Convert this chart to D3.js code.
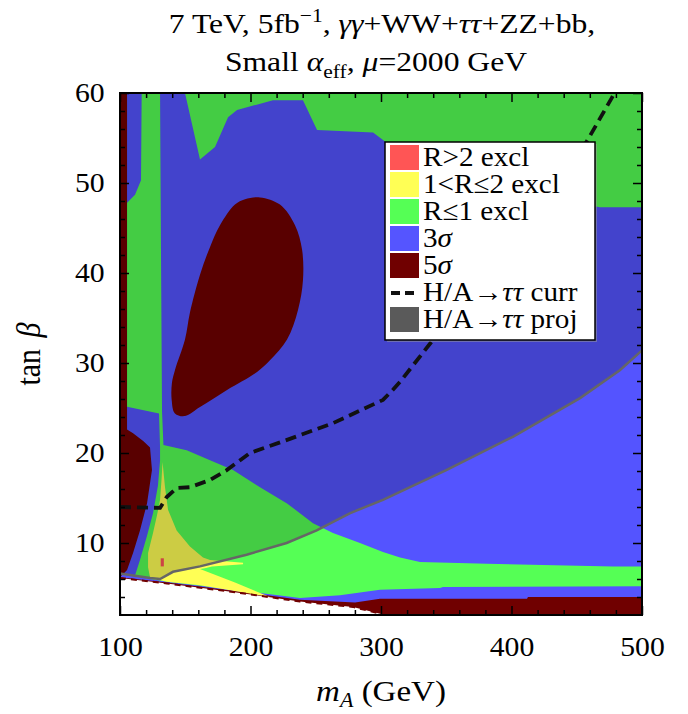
<!DOCTYPE html>
<html><head><meta charset="utf-8">
<script src="https://cdn.jsdelivr.net/npm/d3@7"></script>
<style>
body{margin:0;background:#fff}
svg{display:block}
text{font-family:"Liberation Serif","Times New Roman",serif;fill:#000}
</style>
</head><body><div id="chart"></div>
<script>
// ---------- data (mA [GeV], tan beta) ----------
const xTicks = [100, 200, 300, 400, 500];
const xMinor = [120, 140, 160, 180, 220, 240, 260, 280, 320, 340, 360, 380, 420, 440, 460, 480];
const yTicks = [10, 20, 30, 40, 50, 60];
const yMinor = [4, 6, 8, 12, 14, 16, 18, 22, 24, 26, 28, 32, 34, 36, 38, 42, 44, 46, 48, 52, 54, 56, 58];

// R<=1 excl region, upper band
const greenTop = [[149.8,60],[161.3,52.6],[172.8,54],[182.8,57.3],[189.7,58.1],[217.2,59.2],[240.2,59.2],[251,55.9],[293.9,55.6],[306.9,54.2],[437.2,48.1],[467.8,47.3],[500,47.3],[500,60]];
// R<=1 excl region, vertical strip + lower wedge + low band
const greenMain = [[116.6,60],[130.7,60],[131.4,42.6],[132.2,24.6],[133.3,20.9],[151.1,20.3],[169,19.2],[186.6,18.1],[207.3,16.2],[228,14.4],[247.9,12.2],[263.2,11.1],[283.9,10],[301.5,9],[314.6,8.4],[329.9,7.9],[381.2,7.7],[477.8,7.4],[500,7.4],[500,5.2],[347.5,5.1],[345.2,5.0],[299.2,4.8],[268.6,4.2],[237.9,3.9],[186.6,4.8],[136,5.7],[123,6],[111.5,6.4],[115.3,8.1],[120.5,10.7],[125.3,13.3],[129.1,16.4],[130.7,19.2],[130.7,20.6],[129.9,24.4],[100,25.3],[100,47],[111.5,48.7],[116.1,50.3]];
// 1<R<=2 excl
const yellowReg = [[132.6,19],[134.5,16.2],[136.8,13.7],[143.4,11.4],[153.6,9.6],[163.6,8.4],[169,8.1],[194.3,7.8],[194.3,7.65],[170.5,7.4],[165.1,7.2],[161.3,7.1],[188.1,5.6],[214.9,4.0],[186.6,4.7],[161.3,5.3],[136,5.7],[126.8,6],[123,6.2],[121.5,7.3],[121.5,8.9],[125.3,11.1],[128.4,13.1],[130.7,14.8],[131.8,17]];
// R>2 excl
const redReg = [[131.2,8.3],[133.6,8.3],[133.6,7.4],[131.2,7.4]];
// 5 sigma regions
const sigma5Left = [[100,60],[105.4,60],[105.4,22.6],[110,22.2],[118,21.3],[123,20.6],[124.5,18.1],[120.7,14.4],[115.3,11.4],[110,8.9],[105.4,7],[101.3,6.4],[100,6.3]];
const sigma5Bottom = [[500,4.0],[412.6,4.0],[411.9,3.8],[299.2,3.8],[280.1,3.4],[237.9,3.7],[186.6,4.7],[136,5.6],[100,6.2],[100,2],[500,2]];
const sigma5Blob = [[207.3,48.4],[222.6,47.6],[234.1,45.3],[239.5,42.6],[240.2,39.2],[236.4,35.9],[228,32.6],[214.9,30.3],[205,29],[182,27],[161.3,25.1],[149.8,24.1],[142.1,24.4],[139.6,25.9],[139.8,27.8],[142.1,29.2],[149.8,32.6],[153.6,35.6],[161.3,39.8],[169,42.9],[176.6,45.3],[188.1,47.6],[195.8,48.2]];
// unphysical (white) region edge
const noDataEdge = [[100,6.1],[136,5.5],[186.6,4.56],[237.9,3.5],[278.5,2.9],[303.1,2]];
// H/A -> tautau limits
const projLine = [[100,6.6],[123,6.1],[130.7,6.0],[140.6,6.8],[161.3,7.4],[197,8.7],[227.7,10],[250.7,11.4],[276,13.3],[301.5,14.8],[350,18.1],[401,21.8],[452.5,26.1],[483,29.2],[500,31.4]];
const currLine = [[100,14],[130.7,13.9],[135.8,15.1],[143.4,16.1],[153.6,16.2],[169,17],[181.8,18.1],[199.6,20],[225,21.3],[263,23.3],[301.5,25.9],[309,27],[314.6,27.9],[340,32.6],[457.6,54.6],[479,60]];

const legendLabels = ["R>2 excl","1<R\u22642 excl","R\u22641 excl","3\u03c3","5\u03c3","H/A\u2192\u03c4\u03c4 curr","H/A\u2192\u03c4\u03c4 proj"];
const legendColors = ["#ff5555","#ffff55","#55ff55","#5555ff","#700000","dash","#5a5a5a"];

// ---------- drawing ----------
const W = 688, H = 714;
const svg = d3.select("#chart").append("svg").attr("width", W).attr("height", H);
const x = d3.scaleLinear().domain([100, 500]).range([120, 642]);
const y = d3.scaleLinear().domain([2, 60]).range([615, 93]);
const path = d3.line().x(d => x(d[0])).y(d => y(d[1]));
const poly = d3.line().x(d => x(d[0])).y(d => y(d[1])).curve(d3.curveLinearClosed);
const blob = d3.line().x(d => x(d[0])).y(d => y(d[1])).curve(d3.curveCatmullRomClosed.alpha(0.5));

svg.append("defs").append("clipPath").attr("id", "clip").append("rect")
  .attr("x", x(100)).attr("y", y(60)).attr("width", x(500) - x(100)).attr("height", y(2) - y(60));
const plot = svg.append("g").attr("clip-path", "url(#clip)");

const BLUE = "#5454ff", GREEN = "#55ff55", YEL = "#ffff55", RED = "#ff5555", DRED = "#700000";
plot.append("rect").attr("x", x(100)).attr("y", y(60)).attr("width", x(500) - x(100)).attr("height", y(2) - y(60)).attr("fill", BLUE);
plot.append("path").attr("d", poly(sigma5Bottom)).attr("fill", DRED);
plot.append("path").attr("d", poly(greenMain)).attr("fill", GREEN);
plot.append("path").attr("d", poly(greenTop)).attr("fill", GREEN);
plot.append("path").attr("d", poly(yellowReg)).attr("fill", YEL);
plot.append("path").attr("d", poly(redReg)).attr("fill", RED);
plot.append("path").attr("d", poly(sigma5Left)).attr("fill", DRED);
plot.append("path").attr("d", blob(sigma5Blob)).attr("fill", DRED);
plot.append("path").attr("d", poly(noDataEdge.concat([[100, 2]]))).attr("fill", "#fff");
plot.append("path").attr("d", path(noDataEdge)).attr("fill", "none").attr("stroke", DRED).attr("stroke-width", 2).attr("stroke-dasharray", "6,5");
// projected exclusion: shaded above line
plot.append("path").attr("d", poly(projLine.concat([[500, 60], [100, 60]]))).attr("fill", "#000").attr("fill-opacity", 0.2);
plot.append("path").attr("d", path(projLine)).attr("fill", "none").attr("stroke", "#666").attr("stroke-width", 2.5);
plot.append("path").attr("d", path(currLine)).attr("fill", "none").attr("stroke", "#111").attr("stroke-width", 3.8).attr("stroke-dasharray", "11,6");

// frame
svg.append("rect").attr("x", x(100)).attr("y", y(60)).attr("width", x(500) - x(100)).attr("height", y(2) - y(60))
  .attr("fill", "none").attr("stroke", "#000").attr("stroke-width", 2);

// ticks (inward on all sides)
function tickSet(axis, vals, size, tx, ty) {
  const g = svg.append("g").attr("transform", `translate(${tx},${ty})`)
    .call(axis.tickValues(vals).tickSize(size).tickFormat(""));
  g.select(".domain").remove();
  g.selectAll("line").attr("stroke", "#000").attr("stroke-width", 1.5);
}
tickSet(d3.axisBottom(x), xMinor, -5, 0, y(2));
tickSet(d3.axisTop(x), xMinor, -5, 0, y(60));
tickSet(d3.axisTop(x), xTicks, -9, 0, y(60));
tickSet(d3.axisLeft(y), yMinor, -5, x(100), 0);
tickSet(d3.axisRight(y), yMinor, -5, x(500), 0);
tickSet(d3.axisRight(y), yTicks, -9, x(500), 0);

const SX = 1.1;
// labelled axes
const bx = svg.append("g").attr("transform", `translate(0,${y(2)})`)
  .call(d3.axisBottom(x).tickValues(xTicks).tickSize(-9).tickPadding(22));
bx.select(".domain").remove();
bx.selectAll("line").attr("stroke", "#000").attr("stroke-width", 1.5);
bx.selectAll("text").attr("font-size", 27).attr("font-family", "Liberation Serif").attr("fill", "#000")
  .attr("transform", `scale(${SX},1)`);
const ly = svg.append("g").attr("transform", `translate(${x(100)},0)`)
  .call(d3.axisLeft(y).tickValues(yTicks).tickSize(-9).tickPadding(14));
ly.select(".domain").remove();
ly.selectAll("line").attr("stroke", "#000").attr("stroke-width", 1.5);
ly.selectAll("text").attr("font-size", 27).attr("font-family", "Liberation Serif").attr("fill", "#000")
  .attr("transform", `scale(${SX},1)`);

// axis titles
const xt = svg.append("text").attr("text-anchor", "middle").attr("font-size", 30)
  .attr("transform", `translate(${(x(100) + x(500)) / 2},${y(2) + 86}) scale(${SX},1)`);
xt.append("tspan").attr("font-style", "italic").text("m");
xt.append("tspan").attr("font-style", "italic").attr("font-size", 20).attr("dy", 6).text("A");
xt.append("tspan").attr("dy", -6).text(" (GeV)");

const yt = svg.append("text").attr("text-anchor", "middle").attr("font-size", 30)
  .attr("transform", `translate(40,${(y(2) + y(60)) / 2}) rotate(-90) scale(1,${SX})`);
yt.append("tspan").text("tan ");
yt.append("tspan").attr("font-style", "italic").attr("dx", 4).text("\u03b2");

// title
const t1 = svg.append("text").attr("text-anchor", "middle").attr("font-size", 28)
  .attr("transform", `translate(382,33) scale(1.13,1)`);
t1.append("tspan").text("7 TeV, 5fb");
t1.append("tspan").attr("font-size", 19).attr("dy", -11).text("\u22121");
t1.append("tspan").attr("dy", 11).text(", ");
t1.append("tspan").attr("font-style", "italic").text("\u03b3\u03b3");
t1.append("tspan").text("+WW+");
t1.append("tspan").attr("font-style", "italic").text("\u03c4\u03c4");
t1.append("tspan").text("+ZZ+bb,");

const t2 = svg.append("text").attr("text-anchor", "middle").attr("font-size", 28)
  .attr("transform", `translate(376,71) scale(1.13,1)`);
t2.append("tspan").text("Small ");
t2.append("tspan").attr("font-style", "italic").text("\u03b1");
t2.append("tspan").attr("font-size", 19).attr("dy", 7).text("eff");
t2.append("tspan").attr("dy", -7).text(", ");
t2.append("tspan").attr("font-style", "italic").text("\u03bc");
t2.append("tspan").text("=2000 GeV");

// legend
const lg = svg.append("g");
lg.append("rect").attr("x", 387).attr("y", 144).attr("width", 210).attr("height", 198).attr("fill", "#999").attr("opacity", 0.5);
lg.append("rect").attr("x", 385).attr("y", 142).attr("width", 210).attr("height", 198)
  .attr("fill", "#fff").attr("stroke", "#000").attr("stroke-width", 1.5);
legendLabels.forEach((lab, i) => {
  const top = 145 + i * 27;
  if (legendColors[i] === "dash") {
    lg.append("line").attr("x1", 391).attr("x2", 419).attr("y1", top + 13).attr("y2", top + 13)
      .attr("stroke", "#111").attr("stroke-width", 3.8).attr("stroke-dasharray", "9,5");
  } else {
    lg.append("rect").attr("x", 390).attr("y", top).attr("width", 29).attr("height", 25).attr("fill", legendColors[i]);
  }
  const t = lg.append("text").attr("font-size", 27).attr("transform", `translate(423,${top + 21}) scale(1.08,1)`);
  const m = lab.match(/^(.*?)([\u03c3\u03c4]+)(.*)$/);
  if (m) {
    t.append("tspan").text(m[1]);
    t.append("tspan").attr("font-style", "italic").text(m[2]);
    t.append("tspan").text(m[3]);
  } else t.text(lab);
});
</script>
</body></html>
